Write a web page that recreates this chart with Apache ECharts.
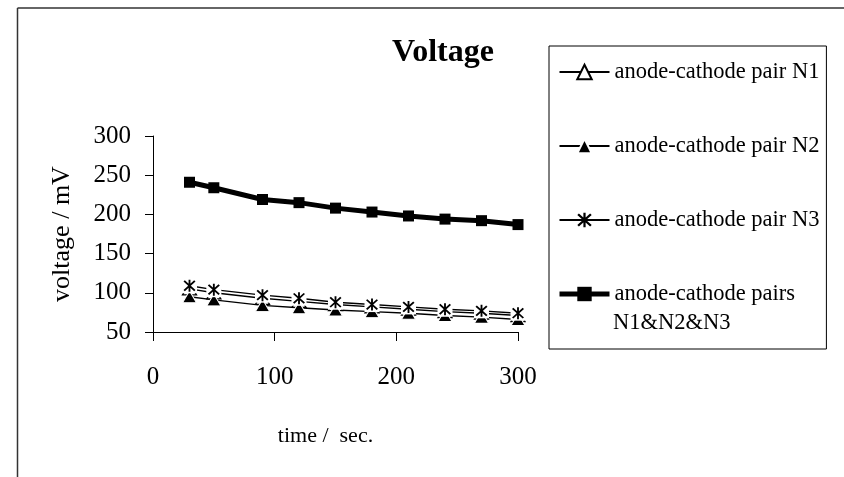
<!DOCTYPE html>
<html>
<head>
<meta charset="utf-8">
<script src="https://cdn.jsdelivr.net/npm/echarts@6/dist/echarts.min.js"></script>
<style>
  html, body { margin: 0; padding: 0; background: #fff; }
  #chart { width: 844px; height: 477px; }
</style>
</head>
<body>
<div id="chart"></div>
<script>
// Measurement times, s
const timeSec = [30, 50, 90, 120, 150, 180, 210, 240, 270, 300];

// Voltage of each anode-cathode pair, mV
const pairN1 = [105, 100, 93, 89, 85, 82, 79, 76, 74, 71];
const pairN2 = [95, 91, 84, 81, 78, 76, 74, 71, 69, 66];
const pairN3 = [109, 104, 97, 93, 88, 85, 82, 79, 77, 74];
const pairsAll = [241, 234, 219, 215, 208, 203, 198, 194, 192, 187];

// Axis ticks
const xTicks = [0, 100, 200, 300];
const yTicks = [50, 100, 150, 200, 250, 300];

const NAME_N1 = 'anode-cathode pair N1';
const NAME_N2 = 'anode-cathode pair N2';
const NAME_N3 = 'anode-cathode pair N3';
const NAME_ALL = 'anode-cathode pairs N1&N2&N3';

const FONT = '"Liberation Serif", "Times New Roman", serif';
const toPoints = arr => timeSec.map((t, i) => [t, arr[i]]);

// six-armed star marker
const STAR = 'path://M4.3,0L5.7,0L5.7,10L4.3,10Z M0.5,1.5L1.5,0.5L9.5,8.5L8.5,9.5Z M8.5,0.5L9.5,1.5L1.5,9.5L0.5,8.5Z';

const chart = echarts.init(document.getElementById('chart'), null, { renderer: 'canvas' });

chart.setOption({
  animation: false,
  backgroundColor: '#fff',
  textStyle: { fontFamily: FONT },
  graphic: [
    { type: 'line', shape: { x1: 17.5, y1: 8, x2: 844, y2: 8 }, style: { stroke: '#333', lineWidth: 1.5 } },
    { type: 'line', shape: { x1: 17.5, y1: 8, x2: 17.5, y2: 477 }, style: { stroke: '#333', lineWidth: 1.5 } },
    { type: 'text', x: 443, y: 53, style: { text: 'Voltage', fontFamily: FONT, fontWeight: 'bold', fontSize: 32, fill: '#000', textAlign: 'center', textVerticalAlign: 'middle' } },
    { type: 'text', x: 613, y: 323, z: 100, style: { text: 'N1&N2&N3', fontFamily: FONT, fontSize: 22.5, fill: '#000', textAlign: 'left', textVerticalAlign: 'middle' } }
  ],
  legend: {
    orient: 'vertical',
    left: 549,
    top: 46,
    padding: [14, 7, 43, 8],
    itemGap: 50,
    itemWidth: 50,
    itemHeight: 18,
    borderColor: '#000',
    borderWidth: 1,
    backgroundColor: '#fff',
    selectedMode: false,
    textStyle: { fontFamily: FONT, fontSize: 22.5, color: '#000', lineHeight: 24 },
    formatter: name => name === NAME_ALL ? 'anode-cathode pairs' : name,
    data: [
      NAME_N1,
      NAME_N2,
      NAME_N3,
      { name: NAME_ALL, lineStyle: { width: 5 } }
    ]
  },
  grid: { left: 153, right: 326, top: 136, bottom: 145, containLabel: false },
  xAxis: {
    type: 'value',
    min: xTicks[0],
    max: xTicks[xTicks.length - 1],
    interval: 100,
    name: 'time /  sec.',
    nameLocation: 'middle',
    nameGap: 93,
    nameTextStyle: { fontFamily: FONT, fontSize: 22, color: '#000', padding: [0, 20, 0, 0] },
    axisLine: { lineStyle: { color: '#000', width: 1 } },
    axisTick: { show: true, length: 9, inside: false, lineStyle: { color: '#000' } },
    axisLabel: { fontFamily: FONT, fontSize: 25, color: '#000', margin: 33 },
    splitLine: { show: false }
  },
  yAxis: {
    type: 'value',
    min: yTicks[0],
    max: yTicks[yTicks.length - 1],
    interval: 50,
    name: 'voltage / mV',
    nameLocation: 'middle',
    nameRotate: 90,
    nameGap: 78,
    nameTextStyle: { fontFamily: FONT, fontSize: 26, color: '#000' },
    axisLine: { show: true, lineStyle: { color: '#000', width: 1 } },
    axisTick: { show: true, length: 8, inside: false, lineStyle: { color: '#000' } },
    axisLabel: { fontFamily: FONT, fontSize: 25, color: '#000', margin: 22 },
    splitLine: { show: false }
  },
  series: [
    {
      name: NAME_N1,
      type: 'line',
      data: toPoints(pairN1),
      symbol: 'triangle',
      symbolSize: [14, 12],
      lineStyle: { color: '#000', width: 1.4 },
      itemStyle: { color: '#fff', borderColor: '#000', borderWidth: 1.3 }
    },
    {
      name: NAME_N2,
      type: 'line',
      data: toPoints(pairN2),
      symbol: 'triangle',
      symbolSize: [14, 12],
      lineStyle: { color: '#000', width: 1.4 },
      itemStyle: { color: '#000', borderColor: '#fff', borderWidth: 1 }
    },
    {
      // white backing square behind each star marker
      name: 'starBacking',
      type: 'line',
      data: toPoints(pairN3),
      symbol: 'rect',
      symbolSize: [15, 15],
      silent: true,
      lineStyle: { width: 0, opacity: 0 },
      itemStyle: { color: '#fff' }
    },
    {
      name: NAME_N3,
      type: 'line',
      data: toPoints(pairN3),
      symbol: STAR,
      symbolSize: [12, 12],
      lineStyle: { color: '#000', width: 1.4 },
      itemStyle: { color: '#000' }
    },
    {
      name: NAME_ALL,
      type: 'line',
      data: toPoints(pairsAll),
      symbol: 'rect',
      symbolSize: 11,
      lineStyle: { color: '#000', width: 5 },
      itemStyle: { color: '#000' }
    }
  ]
});
</script>
</body>
</html>
